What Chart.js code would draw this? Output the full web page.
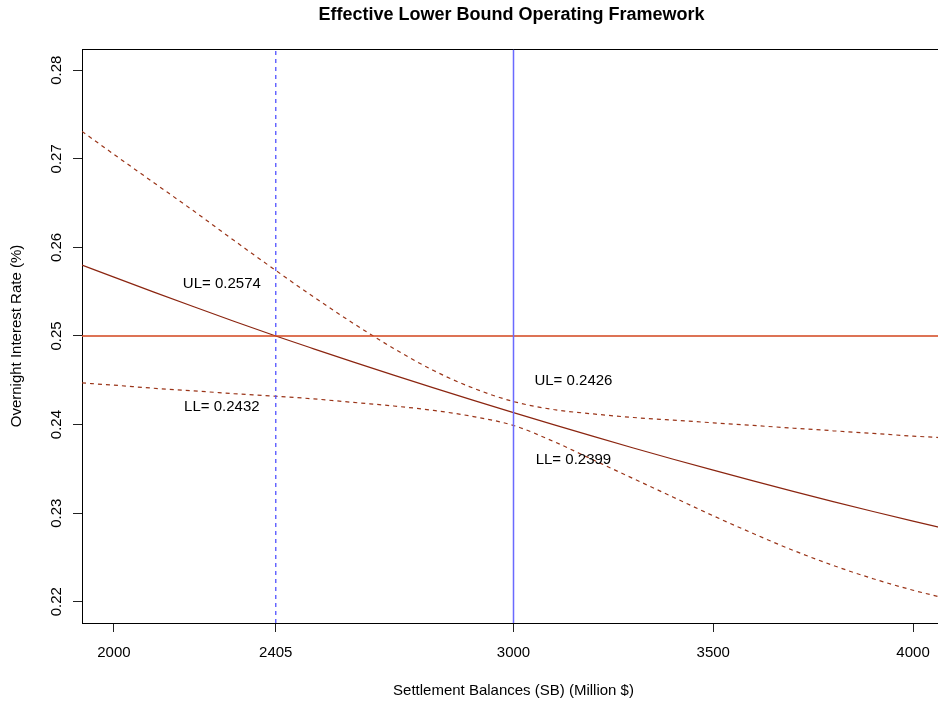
<!DOCTYPE html>
<html><head><meta charset="utf-8">
<script src="https://cdn.jsdelivr.net/npm/chart.js@4.4.1/dist/chart.umd.min.js"></script>
<style>
html,body{margin:0;padding:0;background:#fff;overflow:hidden;}
#wrap{position:relative;width:946px;height:702px;}
</style></head><body>
<div id="wrap"><canvas id="c"></canvas></div>
<script>
// ---- data ----
const settlementBalances = [1920, 2000, 2100, 2200, 2300, 2405, 2500, 2600, 2700, 2800, 2900, 3000, 3100, 3200, 3300, 3400, 3500, 3600, 3700, 3800, 3900, 4000, 4080];
const fittedRate = [0.25800, 0.25664, 0.25496, 0.25330, 0.25167, 0.25000, 0.24855, 0.24705, 0.24558, 0.24414, 0.24273, 0.24135, 0.23999, 0.23866, 0.23736, 0.23609, 0.23485, 0.23364, 0.23246, 0.23131, 0.23019, 0.22910, 0.22825];
const upperLimit = [0.2731, 0.2705, 0.2673, 0.2641, 0.2608, 0.2574, 0.2544, 0.2514, 0.2486, 0.2461, 0.2441, 0.2426, 0.2417, 0.2412, 0.2408, 0.2405, 0.2402, 0.2399, 0.2396, 0.2393, 0.2390, 0.2387, 0.2385];
const lowerLimit = [0.2447, 0.24445, 0.2441, 0.2438, 0.2435, 0.2432, 0.2429, 0.2425, 0.2421, 0.2416, 0.2409, 0.2399, 0.2381, 0.2360, 0.2339, 0.2318, 0.2297, 0.2277, 0.2258, 0.2241, 0.2226, 0.2213, 0.2204];
const targetRate = 0.25;
const markerBalances = [2405, 3000];
const xTickValues = [2000, 2405, 3000, 3500, 4000];
const yTickValues = [0.22, 0.23, 0.24, 0.25, 0.26, 0.27, 0.28];
const xRange = [1920, 4080];
const yRange = [0.2176, 0.2824];
const limitLabels = ['UL= 0.2574', 'LL= 0.2432', 'UL= 0.2426', 'LL= 0.2399'];
const limitLabelX = [2270, 2270, 3150, 3150];
const limitLabelY = [0.2559, 0.2420, 0.2449, 0.2360];
const titleText = 'Effective Lower Bound Operating Framework';
const xTitle = 'Settlement Balances (SB) (Million $)';
const yTitle = 'Overnight Interest Rate (%)';

const FONT = '"Liberation Sans", Arial, Helvetica, sans-serif';
const pts = (ys) => settlementBalances.map((x, i) => ({x, y: ys[i]}));

const datasets = [
  { data: [{x: markerBalances[0], y: yRange[0]}, {x: markerBalances[0], y: yRange[1]}], borderColor: '#5050ff', borderWidth: 1.3, borderDash: [4, 4] },
  { data: [{x: markerBalances[1], y: yRange[0]}, {x: markerBalances[1], y: yRange[1]}], borderColor: '#6a6aff', borderWidth: 1.5 },
  { data: [{x: xRange[0], y: targetRate}, {x: xRange[1], y: targetRate}], borderColor: '#d2441c', borderWidth: 1.4 },
  { data: pts(upperLimit), borderColor: '#9a3418', borderWidth: 1.2, borderDash: [4, 4], cubicInterpolationMode: 'monotone' },
  { data: pts(lowerLimit), borderColor: '#9a3418', borderWidth: 1.2, borderDash: [4, 4], cubicInterpolationMode: 'monotone' },
  { data: pts(fittedRate), borderColor: '#8b2510', borderWidth: 1.2, cubicInterpolationMode: 'monotone' }
].map(d => Object.assign({showLine: true, pointRadius: 0, fill: false, tension: 0}, d));

const framePlugin = {
  id: 'frame',
  afterDraw(chart) {
    const {ctx, chartArea: a, scales} = chart;
    ctx.save();
    ctx.strokeStyle = '#000';
    ctx.lineWidth = 1;
    ctx.beginPath();
    ctx.moveTo(a.left, a.top + 0.5);
    ctx.lineTo(a.right, a.top + 0.5);
    ctx.stroke();
    ctx.fillStyle = '#000';
    ctx.textAlign = 'center';
    ctx.textBaseline = 'middle';
    ctx.font = 'bold 18px ' + FONT;
    ctx.fillText(titleText, (a.left + a.right) / 2 - 2, 15);
    ctx.font = '15px ' + FONT;
    limitLabels.forEach((t, i) => {
      ctx.fillText(t, scales.x.getPixelForValue(limitLabelX[i]), scales.y.getPixelForValue(limitLabelY[i]));
    });
    ctx.restore();
  }
};

new Chart(document.getElementById('c'), {
  type: 'scatter',
  data: { datasets },
  plugins: [framePlugin],
  options: {
    responsive: true,
    maintainAspectRatio: false,
    animation: false,
    events: [],
    layout: { padding: { top: 49, left: 0, right: 1, bottom: 0 } },
    plugins: { legend: { display: false }, tooltip: { enabled: false }, title: { display: false } },
    scales: {
      x: {
        type: 'linear', position: 'bottom', min: xRange[0], max: xRange[1],
        afterBuildTicks: s => { s.ticks = xTickValues.map(v => ({value: v})); },
        afterFit: s => { s.height = 79; },
        grid: { drawOnChartArea: false, drawTicks: true, tickLength: 9, color: '#222', tickColor: '#222' },
        border: { display: true, color: '#000', width: 1 },
        ticks: { autoSkip: false, maxRotation: 0, padding: 12, color: '#000', font: { family: FONT, size: 15 }, callback: v => String(v) },
        title: { display: true, text: xTitle, color: '#000', font: { family: FONT, size: 15 }, padding: { top: 0, bottom: 2 } }
      },
      y: {
        type: 'linear', position: 'left', min: yRange[0], max: yRange[1],
        afterBuildTicks: s => { s.ticks = yTickValues.map(v => ({value: v})); },
        afterFit: s => { s.width = 82; },
        grid: { drawOnChartArea: false, drawTicks: true, tickLength: 9, color: '#222', tickColor: '#222' },
        border: { display: true, color: '#000', width: 1 },
        ticks: { autoSkip: false, minRotation: 90, maxRotation: 90, crossAlign: 'center', padding: 2, color: '#000', font: { family: FONT, size: 15 }, callback: v => Number(v).toFixed(2) },
        title: { display: true, text: yTitle, color: '#000', font: { family: FONT, size: 15 }, padding: { top: 8, bottom: 0 } }
      }
    }
  }
});
</script>
</body></html>
